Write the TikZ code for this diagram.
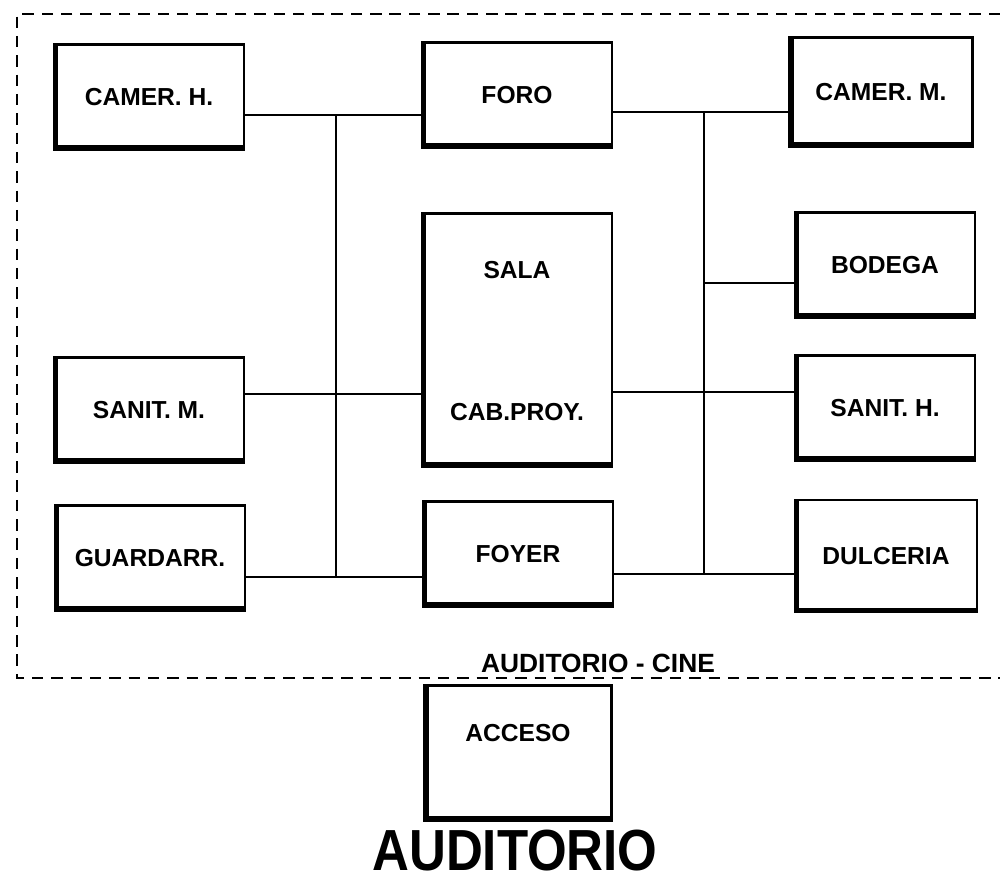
\documentclass[tikz,border=0pt]{standalone}
\usepackage{fontspec}
\setmainfont{Liberation Sans}
\usepackage{graphicx}
\usetikzlibrary{positioning, calc}

\begin{document}
\begin{tikzpicture}[
  x=0.02cm, y=-0.02cm,
  font=\bfseries,
  room/.style={
    draw, line width=1.3pt, inner sep=0pt,
    minimum width=3.8cm, minimum height=2.1cm,
    font=\fontsize{14}{16}\selectfont\bfseries,
    path picture={\draw[line width=5pt]
      (path picture bounding box.north west) --
      (path picture bounding box.south west) --
      (path picture bounding box.south east);}
  },
  lbl/.style={font=\fontsize{14}{16}\selectfont\bfseries},
  link/.style={line width=1.2pt},
  frame/.style={line width=1.5pt, dash pattern=on 6.5pt off 4.5pt},
]
  \useasboundingbox (0,0) rectangle (1000,884);

  % --- Left column ---
  \node[room] (camh) at (149,97) {CAMER. H.};
  \node[room] (sanm) at (149,410) {SANIT. M.};
  \node[room] (guard) at (150,558) {GUARDARR.};

  % --- Middle column ---
  \node[room] (foro) at (517,95) {FORO};
  \node[room, minimum height=5.06cm] (sala) at (517,340) {};
  \node[lbl] at (517,270) {SALA};
  \node[lbl] at (517,412) {CAB.PROY.};
  \node[room] (foyer) at (518,554) {FOYER};

  % --- Right column ---
  \node[room, minimum width=3.66cm, minimum height=2.18cm] (camm) at (881,92) {CAMER. M.};
  \node[room, minimum width=3.6cm] (bodega) at (885,265) {BODEGA};
  \node[room, minimum width=3.6cm] (sanh) at (885,408) {SANIT. H.};
  \node[room, minimum width=3.64cm, minimum height=2.24cm] (dulce) at (886,556) {DULCERIA};

  % --- Junctions ---
  \coordinate (lt) at (336,115);
  \coordinate (lm) at (336,394);
  \coordinate (lb) at (336,577);
  \coordinate (rt) at (704,112);
  \coordinate (rm1) at (704,283);
  \coordinate (rm2) at (704,392);
  \coordinate (rb) at (704,574);

  % --- Connections ---
  \draw[link] (camh.east |- lt) -- (foro.west |- lt);
  \draw[link] (lt) -- (lb);
  \draw[link] (sanm.east |- lm) -- (sala.west |- lm);
  \draw[link] (guard.east |- lb) -- (foyer.west |- lb);
  \draw[link] (foro.east |- rt) -- (camm.west |- rt);
  \draw[link] (rt) -- (rb);
  \draw[link] (rm1) -- (bodega.west |- rm1);
  \draw[link] (sala.east |- rm2) -- (sanh.west |- rm2);
  \draw[link] (foyer.east |- rb) -- (dulce.west |- rb);

  % --- Outline of the zone ---
  \draw[frame] (1000,14) -- (17,14) -- (17,678) -- (1000,678);
  \node[font=\fontsize{15}{17}\selectfont\bfseries, anchor=base] (zone) at (598,672) {AUDITORIO - CINE};

  % --- Entrance and title ---
  \node[room, minimum width=3.74cm, minimum height=2.7cm] (acceso) at (518,753) {};
  \node[lbl] at (518,733) {ACCESO};
  \node[font=\fontsize{33}{35}\selectfont\bfseries, anchor=base, inner sep=0pt] (title) at (515,870)
    {\scalebox{0.88}[1]{AUDITORIO}};

\end{tikzpicture}
\end{document}
